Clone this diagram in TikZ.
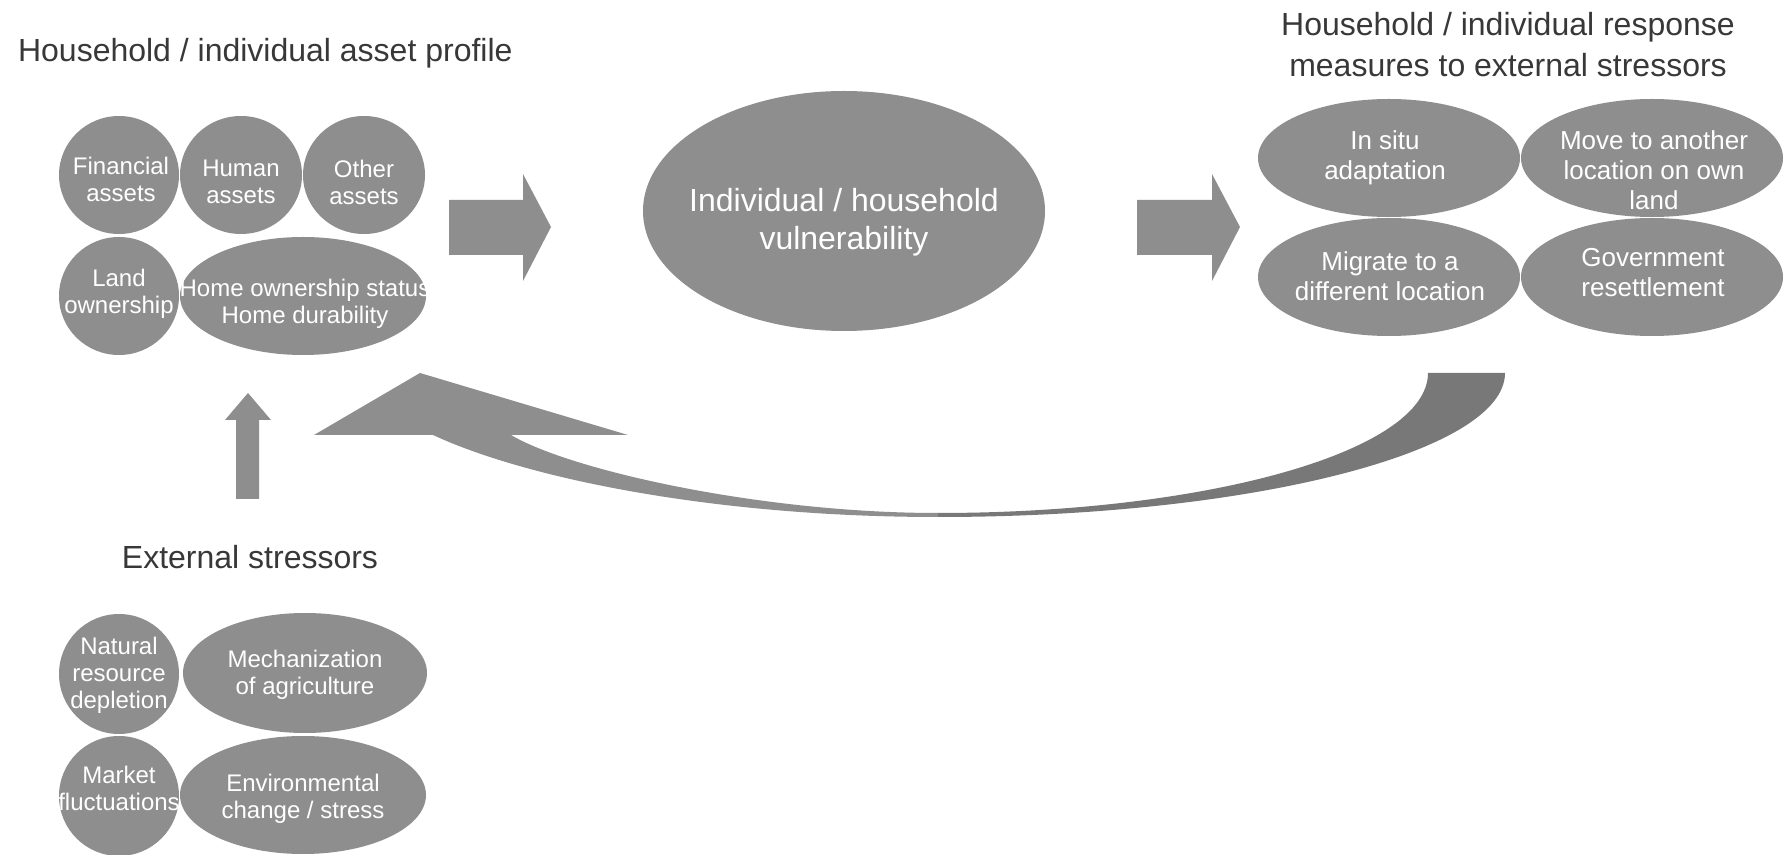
\documentclass[tikz,border=0pt]{standalone}
\usepackage{fontspec}
\setmainfont{Liberation Sans}
\usepackage{xcolor}
\usetikzlibrary{shapes.geometric}
\definecolor{ovalgray}{HTML}{8E8E8E}
\definecolor{arcgray}{HTML}{787878}
\definecolor{titlegray}{HTML}{383838}

\begin{document}
\begin{tikzpicture}[x=0.5pt,y=-0.5pt,
  blob/.style={ellipse,fill=ovalgray,inner sep=0pt},
  intxt/.style={text=white,align=center,font=\fontsize{12}{13.5}\selectfont},
  rtxt/.style={text=white,align=center,font=\fontsize{13}{15}\selectfont},
  heading/.style={text=titlegray,align=center,font=\fontsize{16}{20}\selectfont},
]
\fill[white] (0,0) rectangle (1790,855);
\useasboundingbox (0,0) rectangle (1790,855);
% headings
\node[heading,anchor=base west] (assethd) at (11,62) {Household / individual asset profile};
\node[heading,font=\fontsize{16}{20.5}\selectfont] (resphd) at (1508,45) {Household / individual response\\measures to external stressors};
\node[heading,anchor=base] (stresshd) at (250,569) {External stressors};
% asset profile
\node[blob,minimum width=60pt,minimum height=59pt] (fin) at (119,175) {};
\node[blob,minimum width=61pt,minimum height=59pt] (hum) at (241,175) {};
\node[blob,minimum width=61pt,minimum height=59pt] (oth) at (364,175) {};
\node[blob,minimum width=60pt,minimum height=59pt] (land) at (119,296) {};
\node[blob,minimum width=123pt,minimum height=59pt] (home) at (303,296) {};
\node[intxt] (fintxt) at (121,179) {Financial\\assets};
\node[intxt] (humtxt) at (241,182) {Human\\assets};
\node[intxt] (othtxt) at (364,182) {Other\\assets};
\node[intxt] (landtxt) at (119,294) {Land\\ownership};
\node[intxt] (hometxt) at (305,304) {Home ownership status\\Home durability};
% vulnerability
\node[blob,minimum width=201pt,minimum height=120pt] (vuln) at (844,211) {};
\node[heading,text=white,font=\fontsize{16}{19}\selectfont] (vulntxt) at (844,222) {Individual / household\\vulnerability};
% response measures
\node[blob,minimum width=131pt,minimum height=59pt] (insitu) at (1389,158) {};
\node[blob,minimum width=131pt,minimum height=59pt] (move) at (1652,158) {};
\node[blob,minimum width=131pt,minimum height=59pt] (migr) at (1389,277) {};
\node[blob,minimum width=131pt,minimum height=59pt] (gov) at (1652,277) {};
\node[rtxt] (insitutxt) at (1385,158) {In situ\\adaptation};
\node[rtxt] (movetxt) at (1654,170) {Move to another\\location on own\\land};
\node[rtxt] (migrtxt) at (1390,276) {Migrate to a\\different location};
\node[rtxt] (govtxt) at (1653,273) {Government\\resettlement};
% external stressors
\node[blob,minimum width=60pt,minimum height=60pt] (nat) at (119,674) {};
\node[blob,minimum width=122pt,minimum height=60pt] (mech) at (305,673) {};
\node[blob,minimum width=60pt,minimum height=60pt] (mkt) at (119,796) {};
\node[blob,minimum width=123pt,minimum height=59pt] (env) at (303,795) {};
\node[intxt] (nattxt) at (119,675) {Natural\\resource\\depletion};
\node[intxt] (mechtxt) at (305,675) {Mechanization\\of agriculture};
\node[intxt] (mkttxt) at (119,788) {Market\\fluctuations};
\node[intxt] (envtxt) at (303,799) {Environmental\\change / stress};
% block arrows
\fill[ovalgray] (449,200) -- (523,200) -- (523,174) -- (551,227) -- (523,281) -- (523,255) -- (449,255) -- cycle;
\fill[ovalgray] (1137,200) -- (1212,200) -- (1212,174) -- (1240,227) -- (1212,281) -- (1212,255) -- (1137,255) -- cycle;
\fill[ovalgray] (236,499) -- (236,420) -- (225,420) -- (248,393) -- (271,420) -- (259,420) -- (259,499) -- cycle;
% feedback arc
\fill[arcgray] (1505,373) .. controls (1505,452) and (1251,517) .. (938,517)
  -- (938,513) .. controls (1208,513) and (1428,451) .. (1428,373) -- cycle;
\fill[ovalgray] (938,517) .. controls (720,517) and (530,480) .. (433,435)
  -- (314,435) -- (420,373) -- (628,435) -- (511,435)
  .. controls (570,470) and (760,513) .. (938,513) -- cycle;
\end{tikzpicture}
\end{document}
